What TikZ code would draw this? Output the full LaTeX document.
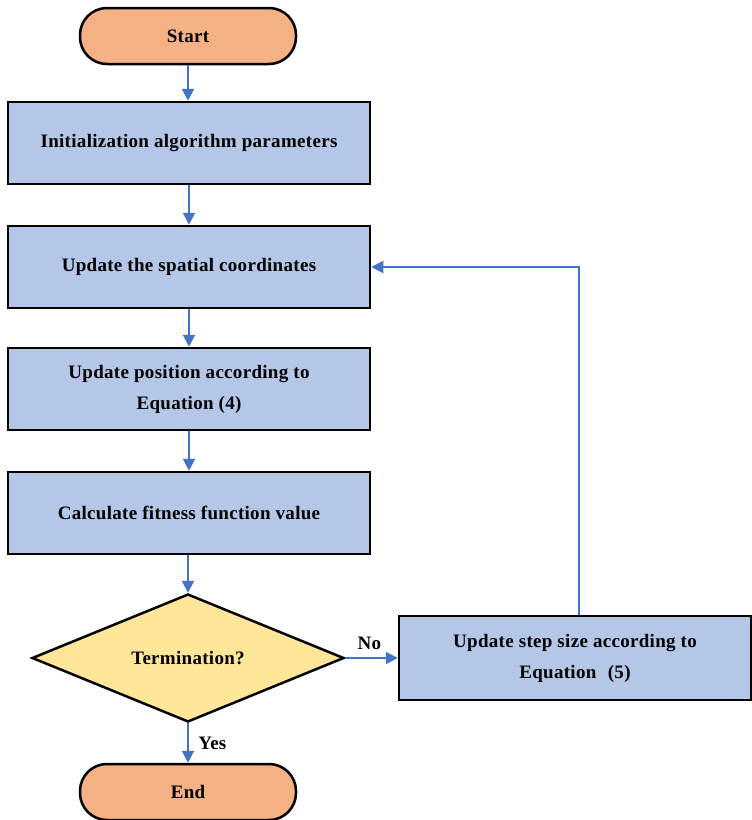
\documentclass[tikz,border=0pt]{standalone}
\usepackage{fontspec}
\setmainfont[LetterSpace=1.6]{Liberation Serif}
\usetikzlibrary{shapes.geometric,arrows.meta}

\definecolor{termfill}{HTML}{F4B183}
\definecolor{procfill}{HTML}{B4C7E7}
\definecolor{decfill}{HTML}{FFE699}
\definecolor{flowblue}{HTML}{4472C4}

\tikzset{
  terminal/.style={draw=black, line width=2.5pt, fill=termfill, rounded corners=27pt,
    minimum width=216pt, minimum height=56pt, inner sep=0pt},
  procbox/.style={draw=black, line width=2.5pt, fill=procfill,
    minimum width=362pt, minimum height=82pt, inner sep=0pt, align=center},
  decision/.style={draw=black, line width=2.5pt, fill=decfill, diamond, aspect=2.44,
    minimum width=312pt, minimum height=128pt, inner sep=0pt},
  flow/.style={draw=flowblue, line width=2pt, -{Triangle[length=12pt,width=12pt]}},
  every node/.style={font=\fontsize{19}{31}\selectfont\bfseries}
}

\begin{document}
\begin{tikzpicture}[x=1pt,y=-1pt]
\useasboundingbox (0,0) rectangle (752,820);

\node [terminal] (start) at (188,36) {Start};
\node [procbox] (init) at (189,143) {Initialization algorithm parameters};
\node [procbox] (coords) at (189,267) {Update the spatial coordinates};
\node [procbox] (pos) at (189,389) {Update position according to\\Equation (4)};
\node [procbox] (fit) at (189,513) {Calculate fitness function value};
\node [decision] (term) at (188,658) {Termination?};
\node [procbox, minimum width=352pt, minimum height=84pt] (step) at (575,658)
  {Update step size according to\\Equation\hspace{0.6em}(5)};
\node [terminal] (end) at (188,792) {End};
\coordinate (up) at ([xshift=4pt]step.north);

% main column
\draw [flow] (start) -- (start |- init.north);
\draw [flow] (init) -- (init.south |- coords.north);
\draw [flow] (coords) -- (coords.south |- pos.north);
\draw [flow] (pos) -- (pos.south |- fit.north);
\draw [flow] (fit.south -| term.north) -- (term.north);
\draw [flow] (term) -- node [right, xshift=6pt] {Yes} (end);

% loop back
\draw [flow] (term) -- node [above, yshift=4pt, xshift=-2pt] {No} (step);
\draw [flow] (up) |- (coords.east);
\end{tikzpicture}
\end{document}
